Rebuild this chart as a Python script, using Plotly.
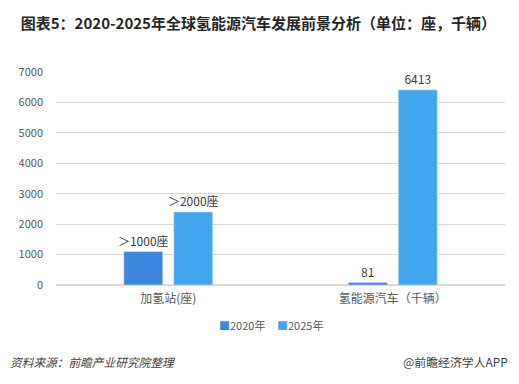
import plotly.graph_objects as go

categories = ["加氢站(座)", "氢能源汽车（千辆）"]
values_2020 = [1100, 81]
values_2025 = [2400, 6413]
labels_2020 = ["＞1000座", "81"]
labels_2025 = ["＞2000座", "6413"]
series_names = ["2020年", "2025年"]
series_colors = ["#3C87DD", "#41A6EE"]
tick_vals = [0, 1000, 2000, 3000, 4000, 5000, 6000, 7000]

font_family = "Noto Sans CJK SC, Microsoft YaHei, sans-serif"

fig = go.Figure()
fig.add_trace(go.Bar(
    x=categories, y=values_2020, name=series_names[0],
    marker_color=series_colors[0], text=labels_2020, textposition="outside",
    constraintext="none",
    textfont=dict(size=12, color="#404040"), cliponaxis=False,
))
fig.add_trace(go.Bar(
    x=categories, y=values_2025, name=series_names[1],
    marker_color=series_colors[1], text=labels_2025, textposition="outside",
    constraintext="none",
    textfont=dict(size=12, color="#404040"), cliponaxis=False,
))

fig.update_layout(
    width=519, height=384,
    margin=dict(l=56, r=14, t=72, b=99, autoexpand=False),
    paper_bgcolor="white", plot_bgcolor="white",
    font=dict(family=font_family, color="#595959", size=11),
    barmode="group", bargap=0.555, bargroupgap=0.22,
    title=dict(
        text="<b>图表5：2020-2025年全球氢能源汽车发展前景分析（单位：座，千辆）</b>",
        x=0.04, xanchor="left", y=0.938, yanchor="middle",
        font=dict(size=15, color="#262626"),
    ),
    showlegend=False,
)
fig.update_xaxes(showline=False, ticks="", automargin=False, ticklabelstandoff=5,
                 tickfont=dict(size=12, color="#595959"))
fig.update_yaxes(
    range=[0, 7000], tickvals=tick_vals, showgrid=True, gridcolor="#D9D9D9",
    gridwidth=1, zeroline=True, zerolinecolor="#D9D9D9", showline=False,
    automargin=False,
    ticks="", ticklabelstandoff=12, tickfont=dict(size=11, color="#595959"),
)

# legend entries (series name with coloured square)
legend_x = [(217 - 56) / 449, (275 - 56) / 449]
for name, color, lx in zip(series_names, series_colors, legend_x):
    fig.add_annotation(
        text=f"<span style='color:{color}'>■</span>{name}",
        xref="paper", yref="paper", x=lx, xanchor="left",
        y=-0.188, yanchor="middle", showarrow=False,
        font=dict(size=11, color="#595959"),
    )

fig.add_annotation(
    text="<i>资料来源：前瞻产业研究院整理</i>", xref="paper", yref="paper",
    x=-0.107, xanchor="left", y=-0.3615, yanchor="middle", showarrow=False,
    font=dict(size=11.7, color="#404040"),
)
fig.add_annotation(
    text="@前瞻经济学人APP", xref="paper", yref="paper",
    x=1.011, xanchor="right", y=-0.3615, yanchor="middle", showarrow=False,
    font=dict(size=11.9, color="#404040"),
)

fig.write_html("out.html", config={"displayModeBar": False},
               post_script="document.body.style.margin='0';")
